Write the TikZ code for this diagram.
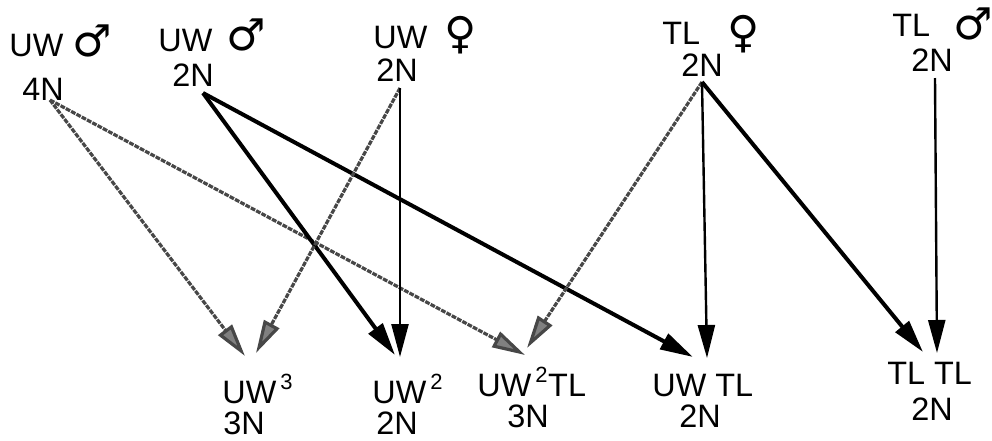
\documentclass[tikz,border=0pt]{standalone}
\usepackage{fontspec}
\setmainfont{Liberation Sans}
\newfontfamily\symfont{DejaVu Sans}
\usetikzlibrary{arrows.meta}

% small raised figure used in the genotype labels
\newcommand{\upfig}[1]{\kern2pt\raisebox{7pt}{\fontsize{11}{10}\selectfont #1}}

\begin{document}
\begin{tikzpicture}[x=0.5pt,y=-0.5pt,
  lbl/.style={inner sep=0pt, anchor=base west, font=\fontsize{16.2}{18}\selectfont},
  sexsym/.style={inner sep=0pt, anchor=base west, font=\fontsize{22}{24}\symfont},
  tipshape/.style={-{Triangle[length=16.5pt,width=8.5pt]}},
  thickarrow/.style={draw=black, line width=2pt, tipshape},
  thinarrow/.style={draw=black, line width=1.2pt, tipshape},
  greyarrow/.style={draw=black!72, line width=1.6pt, dash pattern=on 2.4pt off 0.6pt,
    -{Triangle[length=16.5pt,width=8.5pt,fill=black!50]}},
]
\useasboundingbox (0,0) rectangle (992,440);

% parents (top row)
\node[lbl] (uwmA) at (9,56) {UW};
\node[sexsym] (uwmAs) at (72,56) {♂};
\node[lbl] (uwmAn) at (22,100) {4N};

\node[lbl] (uwmB) at (158,51) {UW};
\node[sexsym] (uwmBs) at (226,50) {♂};
\node[lbl] (uwmBn) at (172,86) {2N};

\node[lbl] (uwf) at (373,48) {UW};
\node[sexsym] (uwfs) at (444,48) {♀};
\node[lbl] (uwfn) at (376,81) {2N};

\node[lbl] (tlf) at (662,44) {TL};
\node[sexsym] (tlfs) at (727,47) {♀};
\node[lbl] (tlfn) at (681,76) {2N};

\node[lbl] (tlm) at (892,36) {TL};
\node[sexsym] (tlms) at (953,39) {♂};
\node[lbl] (tlmn) at (911,71) {2N};

% offspring (bottom row)
\node[lbl] (uw3) at (222,403) {UW\upfig{3}};
\node[lbl] (uw3n) at (223,434) {3N};

\node[lbl] (uw2) at (372,403) {UW\upfig{2}};
\node[lbl] (uw2n) at (376,434) {2N};

\node[lbl] (uw2tl) at (477,396) {UW\upfig{2}\kern0.3pt TL};
\node[lbl] (uw2tln) at (507,427) {3N};

\node[lbl] (uwtl) at (652,396) {UW TL};
\node[lbl] (uwtln) at (679,427) {2N};

\node[lbl] (tltl) at (887,384) {TL TL};
\node[lbl] (tltln) at (911,420) {2N};

% where the crosses leave the parents
\coordinate (fromA) at (50,100);
\coordinate (fromB) at (203,93);
\coordinate (fromC) at (400,88);
\coordinate (fromD) at (702,82);
\coordinate (fromE) at (935,78);

% where they reach the offspring
\coordinate (toUWthreeL) at (245,356);
\coordinate (toUWthreeR) at (256,353);
\coordinate (toUWtwoL) at (395,355);
\coordinate (toUWtwoR) at (400,357);
\coordinate (toUWtwoTLL) at (525,355);
\coordinate (toUWtwoTLR) at (527,348);
\coordinate (toUWTLL) at (693,357);
\coordinate (toUWTLR) at (707,358);
\coordinate (toTLTLL) at (923,352);
\coordinate (toTLTLR) at (937,353);

% tetraploid UW male
\draw[greyarrow] (fromA) -- (toUWthreeL);
\draw[greyarrow] (fromA) -- (toUWtwoTLL);
% diploid UW male
\draw[thickarrow] (fromB) -- (toUWtwoL);
\draw[thickarrow] (fromB) -- (toUWTLL);
% UW female
\draw[greyarrow] (fromC) -- (toUWthreeR);
\draw[thinarrow] (fromC) -- (toUWtwoR);
% TL female
\draw[greyarrow] (fromD) -- (toUWtwoTLR);
\draw[thinarrow] (fromD) -- (toUWTLR);
\draw[thickarrow] (fromD) -- (toTLTLL);
% TL male
\draw[thinarrow] (fromE) -- (toTLTLR);
\end{tikzpicture}
\end{document}
